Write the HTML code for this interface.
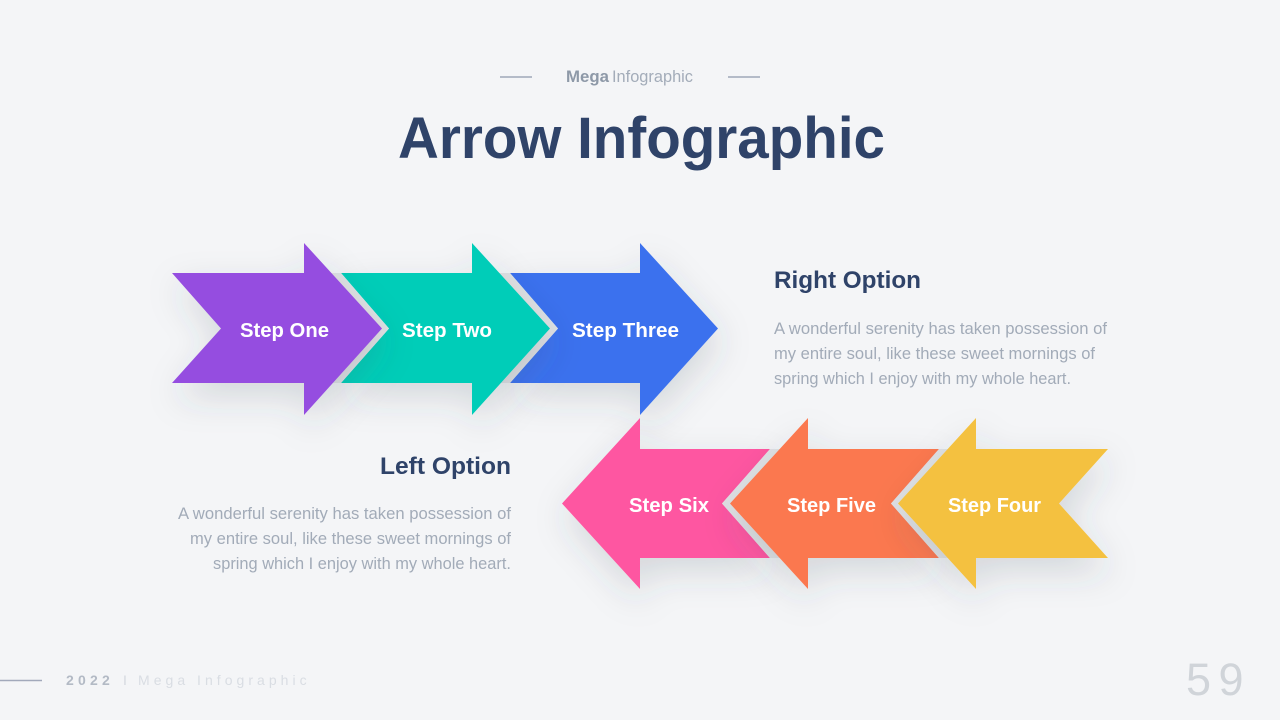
<!DOCTYPE html>
<html lang="en">
<head>
<meta charset="utf-8">
<title>Arrow Infographic</title>
<style>
html,body{margin:0;padding:0;width:1280px;height:720px;overflow:hidden;background:#f4f5f7}
svg{display:block}
text{font-family:"Liberation Sans",sans-serif}
</style>
</head>
<body>
<svg xmlns="http://www.w3.org/2000/svg" width="1280" height="720" viewBox="0 0 1280 720">
<defs>
<filter id="s" x="-40%" y="-40%" width="180%" height="190%">
<feDropShadow dx="3" dy="14" stdDeviation="17" flood-color="#3c4658" flood-opacity=".17"/>
</filter>
</defs>
<rect width="1280" height="720" fill="#f4f5f7"/>

<!-- header -->
<line x1="500" y1="77" x2="532" y2="77" stroke="#9fa8b9" stroke-width="1.6"/>
<line x1="728" y1="77" x2="760" y2="77" stroke="#9fa8b9" stroke-width="1.6"/>
<text x="566" y="82" font-size="16.5" font-weight="700" fill="#8e99a8" textLength="43" lengthAdjust="spacingAndGlyphs">Mega</text>
<text x="612" y="82" font-size="16.5" fill="#a3acb9" textLength="81" lengthAdjust="spacingAndGlyphs">Infographic</text>
<text x="398" y="158" font-size="58" font-weight="700" fill="#2f4369" textLength="487" lengthAdjust="spacingAndGlyphs">Arrow Infographic</text>

<!-- top arrows -->
<polygon filter="url(#s)" fill="#3a71ee" points="510,273 640,273 640,243 718,328.5 640,415 640,383 510,383 558,328.5"/>
<polygon fill="#dfe0e3" points="498,273 510,273 558,328.5 510,383 498,383"/>
<polygon filter="url(#s)" fill="#04cdb8" points="341,273 472,273 472,243 550,328.5 472,415 472,383 341,383 389,328.5"/>
<polygon fill="#dfe0e3" points="329,273 341,273 389,328.5 341,383 329,383"/>
<polygon filter="url(#s)" fill="#954de0" points="172,273 304,273 304,243 382,328.5 304,415 304,383 172,383 221,328.5"/>

<text x="240" y="337" font-size="20.5" font-weight="700" fill="#fff" textLength="89" lengthAdjust="spacingAndGlyphs">Step One</text>
<text x="402" y="337" font-size="20.5" font-weight="700" fill="#fff" textLength="90" lengthAdjust="spacingAndGlyphs">Step Two</text>
<text x="572" y="337" font-size="20.5" font-weight="700" fill="#fff" textLength="107" lengthAdjust="spacingAndGlyphs">Step Three</text>

<!-- bottom arrows -->
<polygon filter="url(#s)" fill="#fe57a1" points="770,449 640,449 640,418 562,503.5 640,589 640,558 770,558 722,503.5"/>
<polygon fill="#dfe0e3" points="782,449 770,449 722,503.5 770,558 782,558"/>
<polygon filter="url(#s)" fill="#fb784f" points="939,449 808,449 808,418 730,503.5 808,589 808,558 939,558 891,503.5"/>
<polygon fill="#dfe0e3" points="951,449 939,449 891,503.5 939,558 951,558"/>
<polygon filter="url(#s)" fill="#f4c13f" points="1108,449 976,449 976,418 898,503.5 976,589 976,558 1108,558 1059,503.5"/>

<text x="629" y="512" font-size="20.5" font-weight="700" fill="#fff" textLength="80" lengthAdjust="spacingAndGlyphs">Step Six</text>
<text x="787" y="512" font-size="20.5" font-weight="700" fill="#fff" textLength="89" lengthAdjust="spacingAndGlyphs">Step Five</text>
<text x="948" y="512" font-size="20.5" font-weight="700" fill="#fff" textLength="93" lengthAdjust="spacingAndGlyphs">Step Four</text>

<!-- right option -->
<text x="774" y="288" font-size="24.5" font-weight="700" fill="#2f4369" textLength="147" lengthAdjust="spacingAndGlyphs">Right Option</text>
<g font-size="17" fill="#a2abb8">
<text x="774" y="334" textLength="333" lengthAdjust="spacingAndGlyphs">A wonderful  serenity  has taken possession  of</text>
<text x="774" y="359" textLength="321" lengthAdjust="spacingAndGlyphs">my entire soul,  like these  sweet  mornings  of</text>
<text x="774" y="384" textLength="297" lengthAdjust="spacingAndGlyphs">spring which I enjoy  with my whole  heart.</text>
</g>

<!-- left option -->
<text x="380" y="474" font-size="24.5" font-weight="700" fill="#2f4369" textLength="131" lengthAdjust="spacingAndGlyphs">Left Option</text>
<g font-size="17" fill="#a2abb8">
<text x="178" y="519" textLength="333" lengthAdjust="spacingAndGlyphs">A wonderful  serenity  has taken possession  of</text>
<text x="190" y="544" textLength="321" lengthAdjust="spacingAndGlyphs">my entire soul,  like these  sweet  mornings  of</text>
<text x="213" y="569" textLength="298" lengthAdjust="spacingAndGlyphs">spring which I enjoy  with my whole  heart.</text>
</g>

<!-- footer -->
<line x1="0" y1="680.5" x2="42" y2="680.5" stroke="#a2a9bb" stroke-width="1.6"/>
<text x="66" y="685" font-size="14" font-weight="700" fill="#b3bac5" letter-spacing="4.2">2022</text>
<text x="123" y="685" font-size="14" fill="#d5d9df">I</text>
<text x="138" y="685" font-size="14" fill="#d9dde3" letter-spacing="4.03">Mega Infographic</text>
<text x="1186" y="695" font-size="45" fill="#d0d4d9" letter-spacing="7.5">59</text>
</svg>
</body>
</html>
